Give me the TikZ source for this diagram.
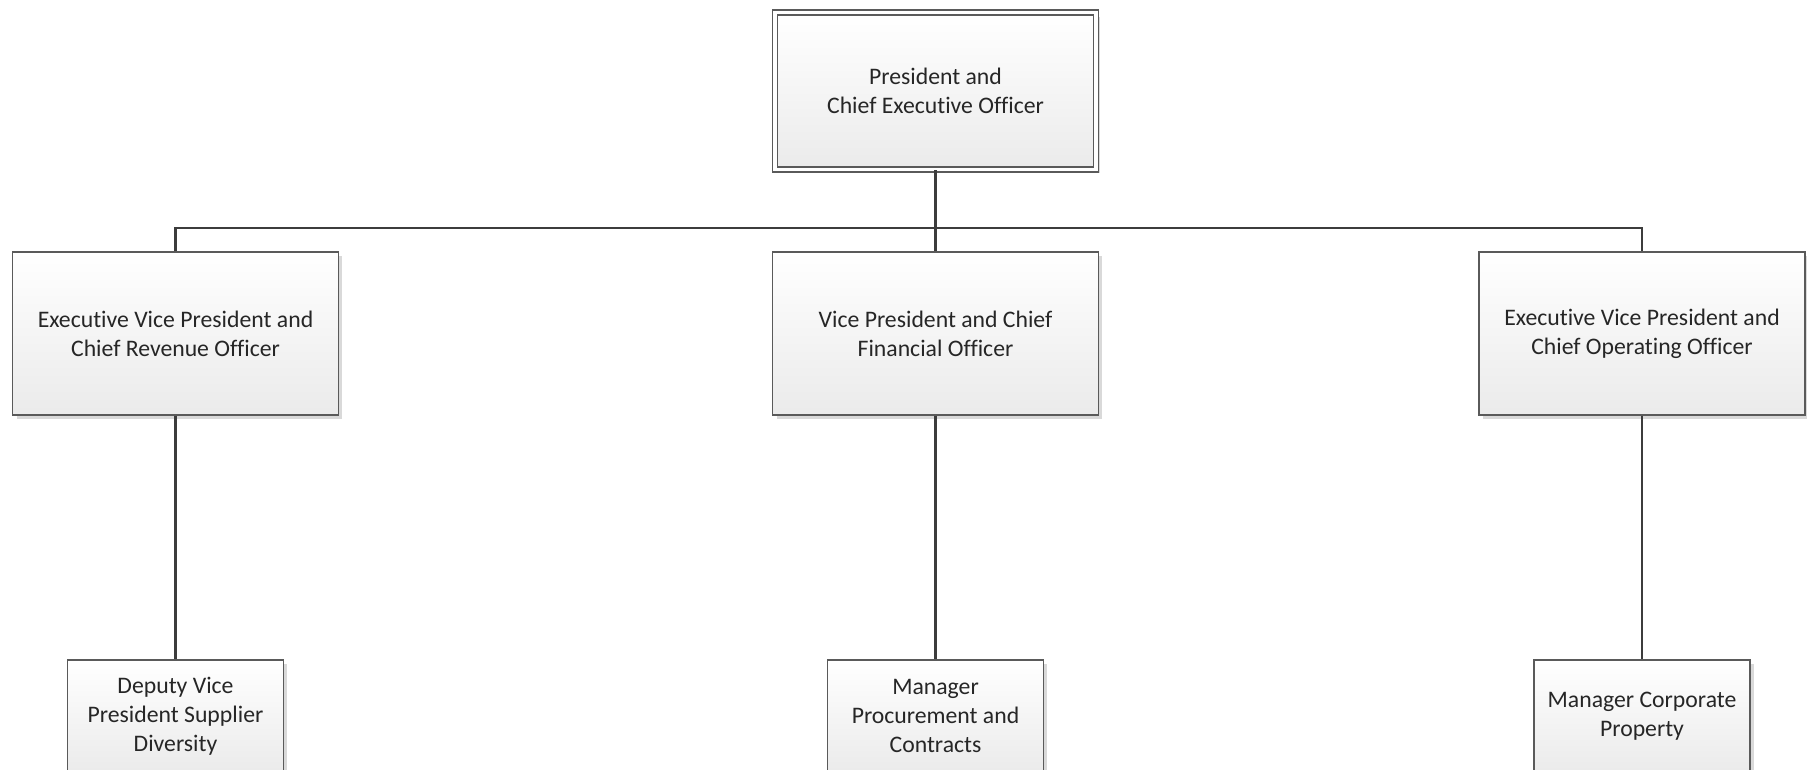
\documentclass[tikz,border=0pt]{standalone}
\usepackage{fontspec}
\setmainfont{Carlito}[Ligatures=NoCommon]
\usetikzlibrary{shadows,positioning}
\definecolor{boxline}{HTML}{5A5A5A}
\definecolor{wireline}{HTML}{3C3C3C}
\definecolor{txt}{HTML}{262626}

\tikzset{
  post/.style={draw=boxline, line width=0.85pt, top color=white, bottom color=black!8,
    text=txt, align=center, font=\fontsize{13.5}{16.4}\selectfont,
    drop shadow={shadow xshift=0.08cm, shadow yshift=-0.08cm, fill=black!25, opacity=0.6}},
  headpost/.style={post, minimum width=6.42cm, minimum height=3.14cm,
    double=white, double distance=0.07cm},
  midpost/.style={post, minimum width=6.52cm, minimum height=3.26cm},
  lowpost/.style={post, minimum width=4.32cm, minimum height=2.24cm},
  wire/.style={draw=wireline, line width=1.6pt}
}

\begin{document}
\begin{tikzpicture}[x=0.02cm,y=-0.02cm]
  \useasboundingbox (0,0) rectangle (1807,769); % page frame

  \node[headpost] (ceo) at (935.5,91) {President and\\Chief Executive Officer};  % top

  \node[midpost] (cro) at (175.5,333.5) {Executive Vice President and\\Chief Revenue Officer};
  \node[midpost] (cfo) at (935.5,333.5) {Vice President and Chief\\Financial Officer};
  \node[midpost] (coo) at (1642,333.5) {Executive Vice President and\\Chief Operating Officer};

  \node[lowpost] (supdiv) at (175.5,716) {Deputy Vice\\President Supplier\\Diversity};
  \node[lowpost] (procure) at (935.5,716) {Manager\\Procurement and\\Contracts};
  \node[lowpost] (property) at (1642,716) {Manager Corporate\\Property};

  \coordinate (bus) at (0,228); % level of the bar

  \draw[wire] (ceo.south) -- (cfo.north);
  \draw[wire] (cro.north) -- (cro.north |- bus) -- (coo.north |- bus) -- (coo.north);

  \draw[wire] (cro.south) -- (supdiv.north);
  \draw[wire] (cfo.south) -- (procure.north);
  \draw[wire] (coo.south) -- (property.north);
\end{tikzpicture}
\end{document}
